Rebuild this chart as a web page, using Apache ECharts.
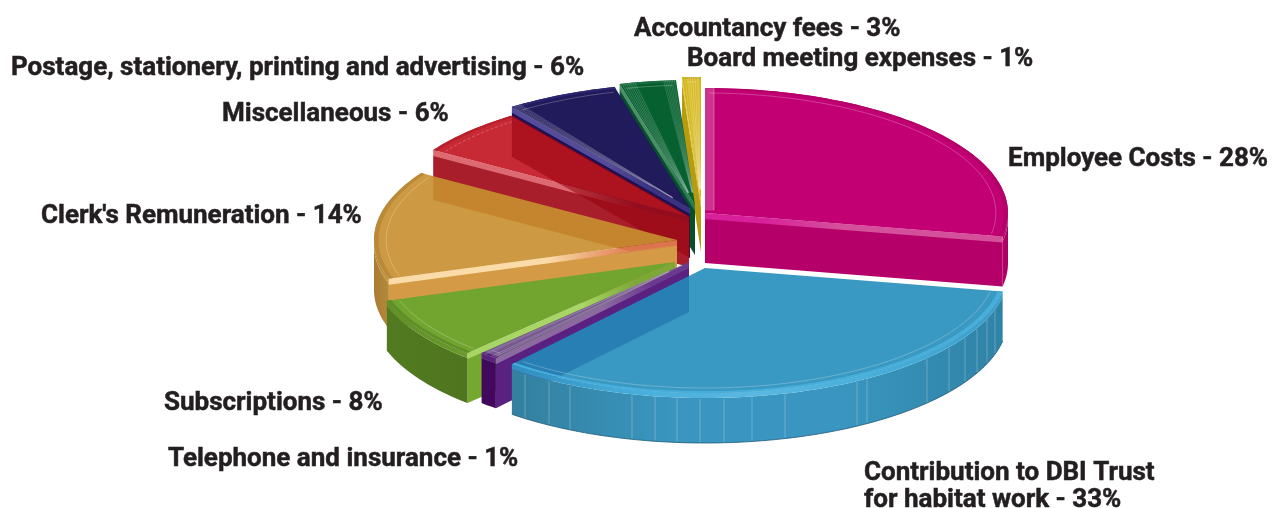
<!DOCTYPE html>
<html><head><meta charset="utf-8">
<style>html,body{margin:0;padding:0;background:#fff}#c{width:1276px;height:508px}</style>
<script src="https://cdn.jsdelivr.net/npm/echarts@6/dist/echarts.min.js"></script>
</head><body><div id="c"></div>
<script>
const categories = ['Employee Costs','Contribution to DBI Trust\nfor habitat work','Telephone and insurance','Subscriptions',"Clerk's Remuneration",'Miscellaneous','Postage, stationery, printing and advertising','Accountancy fees','Board meeting expenses'];
const values = [28,33,1,8,14,6,6,3,1];

// geometry of the drawing (styles, not data)
const RX = 303, RY = 125, DEPTH = 50, CHAMFER = 5, FONT = 26;
const centreX = [705,705,689,675,677,689,690,695,701];
const centreY = [213,268,262,262,240,217,208,205,202];
const labelX = [1008,864,168,164,41,222,11,634,687];
const labelY = [159,487,459,403,216,114,68,29,59];
const drawOrder = [8,7,6,5,0,4,3,2,1];
const topFill = ['#c20074','rgba(33,140,186,.885)','#76588f','#72a530','rgba(200,143,48,.905)','#c72a35','#211a5b','#06602f','#d4b71a'];
const faceFill = ['#b60069','#3a93b9','#5a2280','#75a82f','#d49a46','#a81f2b','#17105a','#04502a','#b89c10'];
const wallFill = [['#b60069','#a8005f'],['#33809f','#3a96c0','#3a96c0','#2f83a6'],['#42085e','#42085e'],['#527a20','#4f761f'],['#a87b33','#b58a3a'],['#a81f2b','#a81f2b'],['#17105a','#17105a'],['#04502a','#04502a'],['#b89c10','#b89c10']];
const bandFill = [['#d8209a','#d4509a'],['rgba(80,170,210,.5)','#56b4de'],['#6a3a90','#8a6aa0'],['#7da838','#a8d565'],['rgba(224,127,80,.9)','#fbdca8'],['rgba(168,32,44,.85)','#dd6a72'],['#3a3280','#544c98'],['#2e7a52','#4a8d68'],['#d8c040','#e0ca50']];
const rimFill = ['#b5006a','#47aedb','#5a2280','#5f8f28','#b98a3a','#b8202c','#2c2570','#1a6e42','#c8ac18'];
const wallRim = [['#b5006a','#c5107a'],['#2f8fc0','#47aedb','#5ab8e0','#47aedb','#3a9fcc'],['#5a2280','#5a2280'],['#5f8f28','#6a9a2c'],['#b98a3a','#c4953f'],['#b8202c','#b8202c'],['#2c2570','#2c2570'],['#1a6e42','#1a6e42'],['#c8ac18','#c8ac18']];
const fanLines = [0,0,2,0,0,0,5,7,6];
const fanStep = [0,0,.6,0,0,0,.38,.42,.5];
const facetX = [-180,-156,-135,-73,-50,-28,-5,19,47,80,152,162,222,244,260,272,282,290];
const ghostFill = 'rgba(150,0,12,.55)';
const MISC = 5, POSTAGE = 6, BLUE = 1, EMPLOYEE = 0;

const total = values.reduce((a,b)=>a+b,0);
const startAngle = [], endAngle = [];
values.reduce((acc,v,i)=>{startAngle[i]=acc/total*360; endAngle[i]=(acc+v)/total*360; return acc+v;},0);

function pt(i,a,r,dy){const t=a*Math.PI/180;return [centreX[i]+RX*r*Math.sin(t),centreY[i]-RY*r*Math.cos(t)+(dy||0)];}
function arc(i,a0,a1,r,dy){const p=[];const n=Math.max(2,Math.ceil(Math.abs(a1-a0)/1.5));for(let k=0;k<=n;k++)p.push(pt(i,a0+(a1-a0)*k/n,r,dy));return p;}
function poly(points,fill,extra){return Object.assign({type:'polygon',shape:{points},style:{fill}},extra||{});}
function line(points,stroke,w,dash){return {type:'polyline',shape:{points},style:{fill:null,stroke,lineWidth:w||1,lineDash:dash||null}};}
function hGrad(stops){const n=stops.length-1;return {type:'linear',x:0,y:0,x2:1,y2:0,colorStops:stops.map((c,k)=>({offset:n?k/n:0,color:c}))};}
function edgeGrad(i,a,stops){const p0=pt(i,a,0),p1=pt(i,a,1);return {type:'linear',global:true,x:p0[0],y:p0[1],x2:p1[0],y2:p1[1],colorStops:[{offset:0,color:stops[0]},{offset:.2,color:stops[0]},{offset:.45,color:stops[1]},{offset:1,color:stops[1]}]};}

function cutFace(i,a,children){
  children.push(poly([pt(i,a,0,CHAMFER),pt(i,a,1,CHAMFER),pt(i,a,1,DEPTH),pt(i,a,0,DEPTH)],faceFill[i]));
}
function cutBand(i,a,children){
  children.push(poly([pt(i,a,0,0),pt(i,a,1,0),pt(i,a,1,CHAMFER+1),pt(i,a,0,CHAMFER+1)],edgeGrad(i,a,bandFill[i])));
}

function renderSlice(params,api){
  const i=api.value(0), s=startAngle[i], e=endAngle[i], ch=[];
  const startVisible=s>=180&&s<360, endVisible=e>0&&e<=180;
  const w0=Math.max(s,90), w1=Math.min(e,270);
  if(startVisible) cutFace(i,s,ch);
  if(endVisible) cutFace(i,e,ch);
  if(w1>w0){
    ch.push(poly(arc(i,w0,w1,1,CHAMFER).concat(arc(i,w1,w0,1,DEPTH)),hGrad(wallFill[i])));
    ch.push(poly(arc(i,w0,w1,1,0).concat(arc(i,w1,w0,1,CHAMFER)),hGrad(wallRim[i])));
  }
  if(i===BLUE){
    facetX.forEach(dx=>{const a=180-Math.asin(dx/RX)*180/Math.PI;
      if(a>s&&a<e) ch.push(line([pt(i,a,1,CHAMFER+1),pt(i,a,1,DEPTH-1)],'rgba(255,255,255,.25)',1));});
    ch.push(line(arc(i,w0,w1,1,DEPTH),'rgba(30,90,120,.8)',1));
  }
  if(startVisible) cutBand(i,s,ch);
  if(endVisible) cutBand(i,e,ch);
  // top surface
  ch.push(poly([pt(i,s,0)].concat(arc(i,s,e,1)),topFill[i]));
  // rim bevel and inner hairline
  ch.push(poly(arc(i,s,e,1).concat(arc(i,e,s,.985)),rimFill[i]));
  ch.push(line(arc(i,s+.8,e-.8,.96),'rgba(255,255,255,.24)',1,i===MISC?[3,2]:null));
  // fine bevel lines hugging the cut edges
  for(let k=1;k<=fanLines[i];k++){
    const a0=s+k*fanStep[i], a1=e-k*fanStep[i]*.8;
    ch.push(line([pt(i,a0,.1),pt(i,a0,1)],'rgba(255,255,255,.2)',1));
    if(i!==POSTAGE) ch.push(line([pt(i,a1,.1),pt(i,a1,1)],'rgba(255,255,255,.16)',1));
  }
  if(i===EMPLOYEE){
    const top=pt(i,s,1), low=pt(i,s,.02);
    ch.push(poly([low,top,[top[0]+9,top[1]],[low[0]+9,low[1]]],'rgba(255,255,255,.2)'));
    ch.push(line([[top[0]+9,top[1]],[low[0]+9,low[1]]],'rgba(255,255,255,.3)',1));
  }
  if(i===MISC){
    // the neighbouring slice's cut face showing through this translucent slice
    const g=POSTAGE,a=startAngle[g];
    ch.push(poly([pt(g,a,1,CHAMFER+3),pt(g,a,0,CHAMFER+3),pt(g,a,0,DEPTH),pt(g,a,1,DEPTH)],ghostFill));
  }
  return {type:'group',children:ch};
}

function renderLabel(params,api){
  const i=api.value(0);
  return {type:'text',x:labelX[i],y:labelY[i],style:{
    text:categories[i]+' - '+values[i]+'%',
    font:'bold '+FONT+'px Roboto, sans-serif',fill:'#231f20',
    stroke:'#231f20',lineWidth:.5,
    align:'left',verticalAlign:'middle',lineHeight:27}};
}

const chart=echarts.init(document.getElementById('c'),null,{renderer:'canvas'});
chart.setOption({
  animation:false,
  backgroundColor:'#fff',
  series:[
    {type:'custom',coordinateSystem:'none',silent:true,renderItem:renderSlice,
     data:drawOrder.map(i=>[i,values[i]]),encode:{value:1}},
    {type:'custom',coordinateSystem:'none',silent:true,renderItem:renderLabel,z:5,
     data:categories.map((c,i)=>({name:c,value:[i,values[i]]}))}
  ]
});
</script></body></html>
